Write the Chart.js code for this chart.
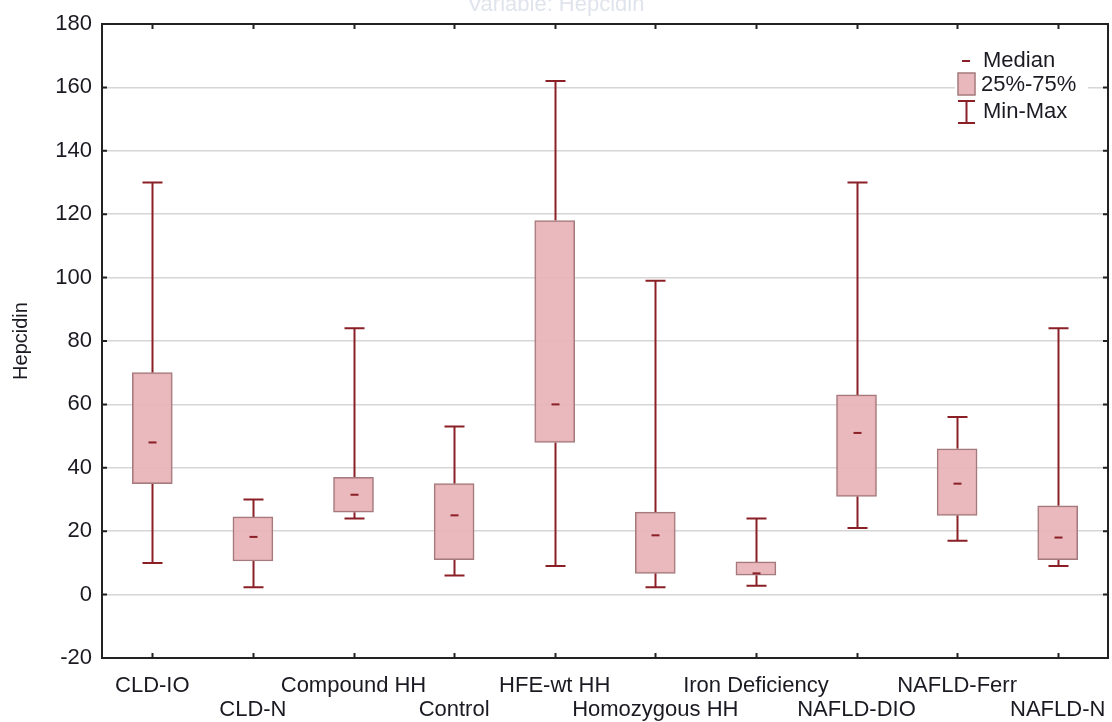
<!DOCTYPE html>
<html>
<head>
<meta charset="utf-8">
<script src="https://cdn.jsdelivr.net/npm/chart.js@4.4.0/dist/chart.umd.min.js"></script>
<style>
  html, body { margin: 0; padding: 0; background: #fff; }
  #wrap { width: 1112px; height: 722px; position: relative; }
</style>
</head>
<body>
<div id="wrap"><canvas id="boxChart"></canvas></div>
<script>
// Hepcidin by group
const groups = ['CLD-IO', 'CLD-N', 'Compound HH', 'Control', 'HFE-wt HH',
                'Homozygous HH', 'Iron Deficiency', 'NAFLD-DIO', 'NAFLD-Ferr', 'NAFLD-N'];
const minVals    = [10, 2.3, 24, 6, 9, 2.3, 2.8, 21, 17, 9];
const q1Vals     = [35, 10.6, 26, 11, 48, 6.7, 6.1, 31, 25, 11];
const medianVals = [48, 18.2, 31.5, 25, 60, 18.7, 6.7, 51, 35, 18];
const q3Vals     = [70, 24.5, 37, 35, 118, 26, 10.3, 63, 46, 28];
const maxVals    = [130, 30, 84, 53, 162, 99, 24, 130, 56, 84];
const yTicks = [-20, 0, 20, 40, 60, 80, 100, 120, 140, 160, 180];

const textColor = '#1a1a22';
const whiskerColor = '#8b1f26';
const font = 'Arial, "Liberation Sans", sans-serif';

const boxExtras = {
    id: 'boxExtras',
    beforeDatasetsDraw(chart) {
        const {ctx, scales: {x, y}} = chart;
        ctx.save();
        ctx.strokeStyle = whiskerColor;
        ctx.lineWidth = 2;
        groups.forEach((g, i) => {
            const cx = Math.round(x.getPixelForValue(i)) + 0.5;
            const yMin = y.getPixelForValue(minVals[i]);
            const yMax = y.getPixelForValue(maxVals[i]);
            const yQ1 = y.getPixelForValue(q1Vals[i]);
            const yQ3 = y.getPixelForValue(q3Vals[i]);
            ctx.beginPath();
            ctx.moveTo(cx, yQ1); ctx.lineTo(cx, yMin);
            ctx.moveTo(cx, yQ3); ctx.lineTo(cx, yMax);
            ctx.moveTo(cx - 10, yMin); ctx.lineTo(cx + 10, yMin);
            ctx.moveTo(cx - 10, yMax); ctx.lineTo(cx + 10, yMax);
            ctx.stroke();
        });
        ctx.restore();
    },
    afterDatasetsDraw(chart) {
        const {ctx, scales: {x, y}} = chart;
        ctx.save();
        ctx.strokeStyle = whiskerColor;
        ctx.lineWidth = 2;
        groups.forEach((g, i) => {
            const cx = Math.round(x.getPixelForValue(i)) + 0.5;
            const ym = y.getPixelForValue(medianVals[i]);
            ctx.beginPath();
            ctx.moveTo(cx - 4, ym); ctx.lineTo(cx + 4, ym);
            ctx.stroke();
        });
        ctx.restore();
    },
    afterDraw(chart) {
        const {ctx, chartArea: a, scales: {x, y}} = chart;
        ctx.save();

        // frame with inner ticks
        ctx.strokeStyle = '#222';
        ctx.lineWidth = 2;
        ctx.strokeRect(a.left, a.top, a.right - a.left, a.bottom - a.top);
        ctx.beginPath();
        groups.forEach((g, i) => {
            const px = Math.round(x.getPixelForValue(i)) + 0.5;
            ctx.moveTo(px, a.top); ctx.lineTo(px, a.top + 5);
            ctx.moveTo(px, a.bottom); ctx.lineTo(px, a.bottom - 5);
        });
        yTicks.forEach(v => {
            const py = y.getPixelForValue(v);
            ctx.moveTo(a.left, py); ctx.lineTo(a.left + 5, py);
            ctx.moveTo(a.right, py); ctx.lineTo(a.right - 5, py);
        });
        ctx.stroke();

        // legend
        ctx.fillStyle = '#fff';
        ctx.fillRect(955, 44, 133, 84);
        ctx.strokeStyle = whiskerColor;
        ctx.lineWidth = 2;
        ctx.beginPath();
        ctx.moveTo(962, 61); ctx.lineTo(970, 61);
        ctx.moveTo(966.5, 101); ctx.lineTo(966.5, 123);
        ctx.moveTo(958, 101); ctx.lineTo(975, 101);
        ctx.moveTo(958, 123); ctx.lineTo(975, 123);
        ctx.stroke();
        ctx.fillStyle = 'rgba(232,180,184,0.95)';
        ctx.fillRect(958, 73, 17, 22);
        ctx.strokeStyle = '#a57a7d';
        ctx.lineWidth = 1.5;
        ctx.strokeRect(958, 73, 17, 22);
        ctx.fillStyle = textColor;
        ctx.font = '22px ' + font;
        ctx.textAlign = 'left';
        ctx.textBaseline = 'middle';
        ctx.fillText('Median', 983, 61);
        ctx.fillText('25%-75%', 981, 85);
        ctx.fillText('Min-Max', 983, 112);

        // faded title, clipped by the top edge
        ctx.fillStyle = '#e0e4ec';
        ctx.textAlign = 'center';
        ctx.textBaseline = 'alphabetic';
        ctx.font = '22px ' + font;
        ctx.fillText('Variable: Hepcidin', 556, 11);
        ctx.restore();
    }
};

const ctx = document.getElementById('boxChart').getContext('2d');
new Chart(ctx, {
    type: 'bar',
    data: {
        labels: groups,
        datasets: [{
            label: '25%-75%',
            data: groups.map((g, i) => [q1Vals[i], q3Vals[i]]),
            backgroundColor: 'rgba(232,180,184,0.93)',
            borderColor: '#a57a7d',
            borderWidth: 1.5,
            borderSkipped: false,
            barThickness: 40
        }]
    },
    options: {
        responsive: true,
        maintainAspectRatio: false,
        animation: false,
        layout: { padding: { top: 24, right: 4, left: 0, bottom: 0 } },
        plugins: {
            legend: { display: false },
            tooltip: { enabled: false }
        },
        scales: {
            x: {
                offset: true,
                grid: { display: false },
                border: { display: false },
                ticks: {
                    padding: 8,
                    color: textColor,
                    font: { family: font, size: 22, lineHeight: 1.1 },
                    maxRotation: 0,
                    autoSkip: false,
                    callback: function(value, index) {
                        return index % 2 ? ['', groups[index]] : groups[index];
                    }
                },
                afterFit: function(scale) {
                    scale.height = 64;
                    scale.paddingLeft = 0;
                    scale.paddingRight = 0;
                }
            },
            y: {
                min: -20,
                max: 180,
                afterBuildTicks: function(scale) {
                    scale.ticks = yTicks.map(v => ({ value: v }));
                },
                grid: { color: '#d6d6d6', lineWidth: 1.5, drawTicks: false },
                border: { display: false },
                ticks: {
                    padding: 10,
                    color: textColor,
                    font: { family: font, size: 22 }
                },
                title: {
                    display: true,
                    text: 'Hepcidin',
                    color: textColor,
                    font: { family: font, size: 20 },
                    padding: { top: 9, bottom: 0 }
                },
                afterFit: function(scale) { scale.width = 102; }
            }
        }
    },
    plugins: [boxExtras]
});
</script>
</body>
</html>
